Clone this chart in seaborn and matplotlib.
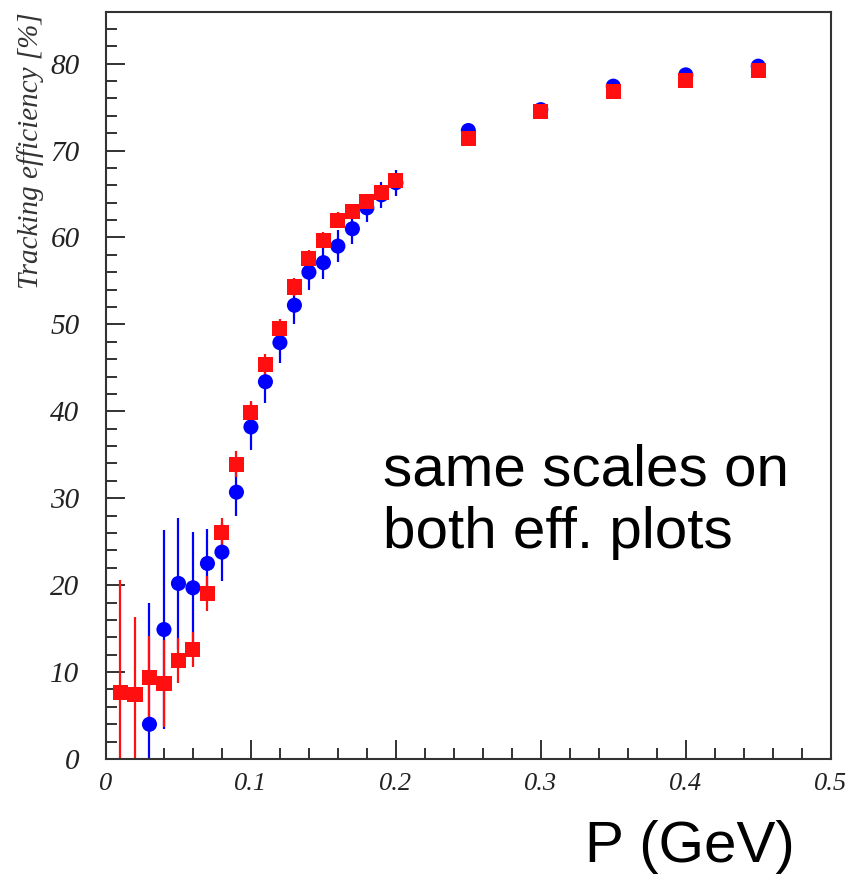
import matplotlib
matplotlib.use("Agg")
import matplotlib.pyplot as plt
from matplotlib.ticker import MultipleLocator
import seaborn as sns
import pandas as pd

# ---- data ----
p_blue = [0.03, 0.04, 0.05, 0.06, 0.07, 0.08, 0.09, 0.10, 0.11, 0.12, 0.13, 0.14,
          0.15, 0.16, 0.17, 0.18, 0.19, 0.20, 0.25, 0.30, 0.35, 0.40, 0.45]
eff_blue = [4.0, 14.9, 20.2, 19.7, 22.5, 23.8, 30.7, 38.2, 43.4, 47.9, 52.2, 56.0,
            57.1, 59.0, 61.0, 63.4, 64.9, 66.3, 72.3, 74.7, 77.4, 78.7, 79.7]
err_blue = [13.9, 11.5, 7.5, 6.4, 4.0, 3.3, 2.8, 2.7, 2.5, 2.3, 2.1, 2.0,
            1.9, 1.8, 1.7, 1.6, 1.5, 1.5, 0.7, 0.6, 0.6, 0.5, 0.5]

p_red = [0.01, 0.02, 0.03, 0.04, 0.05, 0.06, 0.07, 0.08, 0.09, 0.10, 0.11, 0.12,
         0.13, 0.14, 0.15, 0.16, 0.17, 0.18, 0.19, 0.20, 0.25, 0.30, 0.35, 0.40, 0.45]
eff_red = [7.7, 7.4, 9.4, 8.7, 11.3, 12.6, 19.0, 26.1, 33.9, 39.9, 45.4, 49.5,
           54.3, 57.6, 59.7, 62.0, 63.0, 64.1, 65.2, 66.6, 71.4, 74.5, 76.8, 78.0, 79.2]
err_red = [12.9, 8.9, 4.8, 5.0, 2.6, 2.0, 2.0, 1.6, 1.5, 1.3, 1.2, 1.1,
           1.0, 1.0, 0.9, 0.9, 0.9, 0.8, 0.8, 0.8, 0.6, 0.5, 0.5, 0.5, 0.5]

x_ticks = [0, 0.1, 0.2, 0.3, 0.4, 0.5]
x_tick_labels = ["0", "0.1", "0.2", "0.3", "0.4", "0.5"]
y_ticks = [0, 10, 20, 30, 40, 50, 60, 70, 80]

df = pd.concat([
    pd.DataFrame({"p": p_blue, "eff": eff_blue, "err": err_blue, "set": "blue"}),
    pd.DataFrame({"p": p_red, "eff": eff_red, "err": err_red, "set": "red"}),
], ignore_index=True)

sns.set_theme(style="ticks")
plt.rcParams["font.family"] = ["Liberation Serif", "DejaVu Serif"]

fig = plt.figure(figsize=(8.52, 8.77), dpi=100)
ax = fig.add_axes([0.1244, 0.1345, 0.8506, 0.8515])

colors = {"blue": "#0000ff", "red": "#ff0f0f"}
for name in ["blue", "red"]:
    sub = df[df["set"] == name]
    ax.errorbar(sub["p"], sub["eff"], yerr=sub["err"], fmt="none",
                ecolor=colors[name], elinewidth=1.6, capsize=0, zorder=2)

sns.scatterplot(data=df, x="p", y="eff", hue="set", style="set",
                palette=colors, markers={"blue": "o", "red": "s"},
                s=118, linewidth=0, legend=False, ax=ax, zorder=3)

ax.set_xlim(0, 0.5)
ax.set_ylim(0, 85.9)
ax.set_xticks(x_ticks)
ax.set_xticklabels(x_tick_labels)
ax.set_yticks(y_ticks)
ax.xaxis.set_minor_locator(MultipleLocator(0.02))
ax.yaxis.set_minor_locator(MultipleLocator(2))
ax.tick_params(which="both", direction="in", top=False, right=False,
               colors="#222222", width=1.3)
ax.tick_params(which="major", length=14)
ax.tick_params(which="minor", length=8)
ax.tick_params(axis="x", which="major", pad=10)
ax.tick_params(axis="y", which="major", pad=19)
for lab in ax.get_xticklabels():
    lab.set_fontstyle("italic")
    lab.set_fontsize(19)
    lab.set_color("#222222")
for lab in ax.get_yticklabels():
    lab.set_fontstyle("italic")
    lab.set_fontsize(21)
    lab.set_color("#222222")

for sp in ax.spines.values():
    sp.set_visible(True)
    sp.set_color("#333333")
    sp.set_linewidth(1.5)

ax.set_xlabel("")
ax.set_ylabel("Tracking efficiency [%]", loc="top", fontsize=21,
              fontstyle="italic", color="#333333")
ax.yaxis.set_label_coords(-0.086, 1.0)

fig.text(383 / 852, 1 - 485 / 877, "same scales on", fontsize=42,
         family=["Liberation Sans", "DejaVu Sans"],
         ha="left", va="baseline", color="black")
fig.text(383 / 852, 1 - 548 / 877, "both eff. plots", fontsize=42,
         family=["Liberation Sans", "DejaVu Sans"],
         ha="left", va="baseline", color="black")
fig.text(585 / 852, 1 - 862 / 877, "P (GeV)", fontsize=42,
         family=["Liberation Sans", "DejaVu Sans"], ha="left", va="baseline",
         color="black")

fig.savefig("out.png", dpi=100)
